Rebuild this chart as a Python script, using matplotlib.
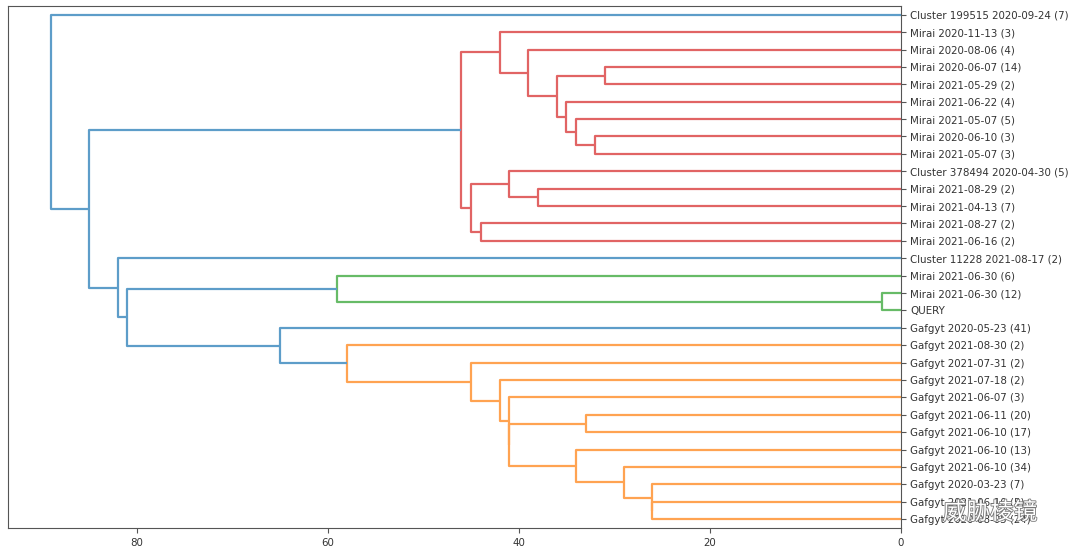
import matplotlib
matplotlib.use("Agg")
import matplotlib.pyplot as plt
import matplotlib.patheffects as pe

# ---- data ----
leaf_labels = [
    "Cluster 199515 2020-09-24 (7)",
    "Mirai 2020-11-13 (3)",
    "Mirai 2020-08-06 (4)",
    "Mirai 2020-06-07 (14)",
    "Mirai 2021-05-29 (2)",
    "Mirai 2021-06-22 (4)",
    "Mirai 2021-05-07 (5)",
    "Mirai 2020-06-10 (3)",
    "Mirai 2021-05-07 (3)",
    "Cluster 378494 2020-04-30 (5)",
    "Mirai 2021-08-29 (2)",
    "Mirai 2021-04-13 (7)",
    "Mirai 2021-08-27 (2)",
    "Mirai 2021-06-16 (2)",
    "Cluster 11228 2021-08-17 (2)",
    "Mirai 2021-06-30 (6)",
    "Mirai 2021-06-30 (12)",
    "QUERY",
    "Gafgyt 2020-05-23 (41)",
    "Gafgyt 2021-08-30 (2)",
    "Gafgyt 2021-07-31 (2)",
    "Gafgyt 2021-07-18 (2)",
    "Gafgyt 2021-06-07 (3)",
    "Gafgyt 2021-06-11 (20)",
    "Gafgyt 2021-06-10 (17)",
    "Gafgyt 2021-06-10 (13)",
    "Gafgyt 2021-06-10 (34)",
    "Gafgyt 2020-03-23 (7)",
    "Gafgyt 2021-06-10 (5)",
    "Gafgyt 2020-08-05 (24)",
]

# merges: node id = n_leaves + index
merge_left = [7, 6, 5, 3, 33, 2, 1, 10, 9, 12, 38, 36,
              16, 15,
              23, 28, 27, 26, 25, 44, 22, 21, 20, 19,
              18, 43, 14, 41, 0]
merge_right = [8, 30, 31, 4, 32, 34, 35, 11, 37, 13, 39, 40,
               17, 42,
               24, 29, 45, 46, 47, 48, 49, 50, 51, 52,
               53, 54, 55, 56, 57]
merge_height = [32, 34, 35, 31, 36, 39, 42, 38, 41, 44, 45, 46,
                2, 59,
                33, 26, 26, 29, 34, 41, 41, 42, 45, 58,
                65, 81, 82, 85, 89]

# ---- layout / drawing ----
n = len(leaf_labels)
above_color = "#5d9dc9"
cluster_colors = ["#ffa351", "#67bb67", "#e16464"]
threshold = 0.7 * max(merge_height)

pos = {i: 5 + 10 * i for i in range(n)}
hgt = {i: 0.0 for i in range(n)}
for k, (a, b, h) in enumerate(zip(merge_left, merge_right, merge_height)):
    node = n + k
    pos[node] = (pos[a] + pos[b]) / 2
    hgt[node] = h

children = {n + k: (a, b) for k, (a, b) in enumerate(zip(merge_left, merge_right))}

parent = {}
for node, (a, b) in children.items():
    parent[a] = node
    parent[b] = node
roots = [node for node in children
         if hgt[node] < threshold and (node not in parent or hgt[parent[node]] >= threshold)]
roots.sort(key=lambda r: -pos[r])  # bottom first
node_color = {}
def paint(node, c):
    if node in children:
        node_color[node] = c
        for ch in children[node]:
            paint(ch, c)
for i, r in enumerate(roots):
    paint(r, cluster_colors[i % len(cluster_colors)])

fig = plt.figure(figsize=(10.8, 5.56), dpi=100)
ax = fig.add_axes([0.0077, 0.0504, 0.8263, 0.9388])

for node, (a, b) in children.items():
    c = node_color.get(node, above_color)
    H = hgt[node]
    ax.plot([hgt[a], H, H, hgt[b]], [pos[a], pos[a], pos[b], pos[b]],
            color=c, lw=1.6, solid_capstyle="butt")

ax.set_xlim(max(merge_height) * 1.05, 0)
ax.set_ylim(10 * n, 0)
ax.yaxis.tick_right()
ax.set_yticks([pos[i] for i in range(n)])
ax.set_yticklabels(leaf_labels, fontsize=7.4, color="#333333")
ax.set_xticks([80, 60, 40, 20, 0])
ax.tick_params(axis="x", labelsize=7.4, labelcolor="#333333", color="#555555")
ax.tick_params(axis="y", color="#555555")
for s in ax.spines.values():
    s.set_color("#555555")

fig.text(0.873, 0.066, "威胁棱镜", fontsize=17, color="white",
         family=["Noto Sans CJK SC", "DejaVu Sans"],
         path_effects=[pe.withStroke(linewidth=1.2, foreground="#777777")])

fig.savefig("out.png", dpi=100)
